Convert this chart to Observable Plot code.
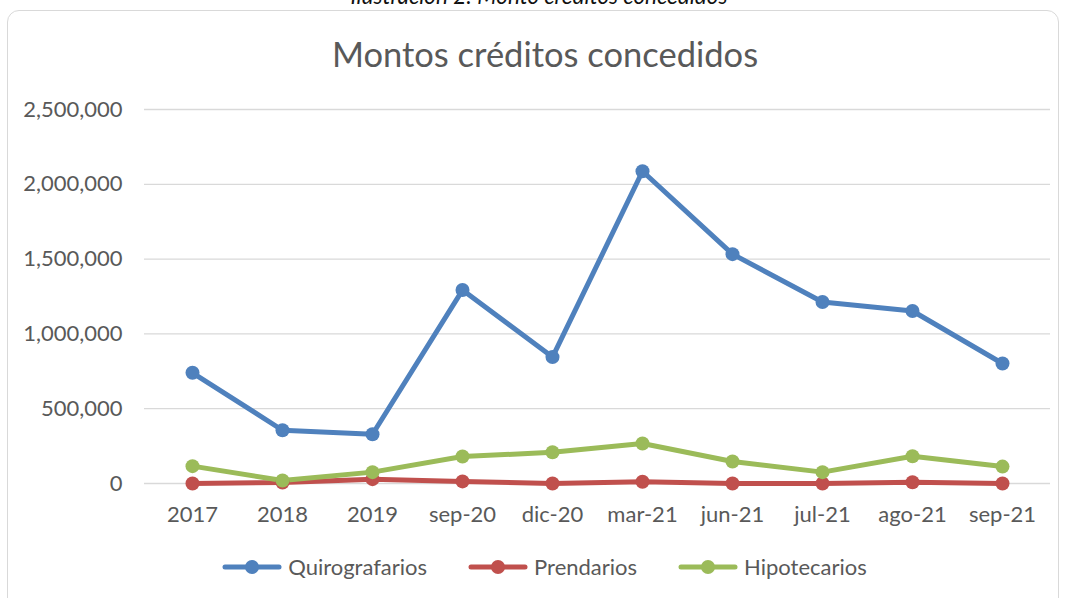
<!DOCTYPE html>
<html>
<head>
<meta charset="utf-8">
<script src="https://cdn.jsdelivr.net/npm/d3@7"></script>
<script src="https://cdn.jsdelivr.net/npm/@observablehq/plot@0.6"></script>
<style>
  html, body { margin: 0; padding: 0; background: #fff; width: 1067px; height: 598px; overflow: hidden; font-family: Lato, "Liberation Sans", sans-serif; }
  #caption { position: absolute; left: 0; width: 1078px; top: -15px; line-height: 1; text-align: center; font-style: italic; font-size: 22.5px; color: #111; white-space: nowrap; }
  #box { position: absolute; left: 7px; top: 10px; width: 1052px; height: 620px; border: 1.5px solid #d9d9d9; border-radius: 12px; box-sizing: border-box; }
  #title { position: absolute; left: 0; width: 1090px; top: 33px; text-align: center; font-size: 34.5px; color: #595959; white-space: nowrap; }
  #chart { position: absolute; left: 0; top: 90px; }
  #legend { position: absolute; left: 0; width: 1089px; top: 553px; display: flex; justify-content: center; gap: 41px; font-size: 22px; color: #595959; }
  .item { display: flex; align-items: center; gap: 6px; }
</style>
</head>
<body>
<div id="caption">Ilustración 2: Monto créditos concedidos</div>
<div id="box"></div>
<div id="title">Montos créditos concedidos</div>
<div id="chart"></div>
<div id="legend"></div>
<script>
const categories = ["2017", "2018", "2019", "sep-20", "dic-20", "mar-21", "jun-21", "jul-21", "ago-21", "sep-21"];
const quirografarios = [740000, 356000, 329000, 1293000, 845000, 2087000, 1533000, 1213000, 1153000, 802000];
const prendarios = [0, 7000, 29000, 14000, 0, 12000, 0, 0, 8000, 0];
const hipotecarios = [116000, 20000, 76000, 180000, 209000, 267000, 147000, 76000, 182000, 113000];
const seriesNames = ["Quirografarios", "Prendarios", "Hipotecarios"];
const seriesColors = ["#4f81bd", "#c0504d", "#9bbb59"];
const yTicks = [0, 500000, 1000000, 1500000, 2000000, 2500000];

const seriesValues = [quirografarios, prendarios, hipotecarios];
const data = [];
seriesNames.forEach((s, i) => categories.forEach((c, j) => data.push({serie: s, cat: c, value: seriesValues[i][j]})));

const fmt = d3.format(",");
const plot = Plot.plot({
  width: 1067,
  height: 450,
  marginLeft: 144,
  marginRight: 17,
  marginTop: 19,
  marginBottom: 57,
  style: {fontFamily: "Lato, 'Liberation Sans', sans-serif", fontSize: "22px", color: "#595959", background: "transparent", overflow: "visible"},
  x: {type: "point", domain: categories, padding: 0.5, label: null, tickSize: 0, tickPadding: 23},
  y: {domain: [0, 2500000], ticks: yTicks, label: null, tickSize: 0, tickPadding: 22, tickFormat: fmt},
  color: {domain: seriesNames, range: seriesColors},
  marks: [
    Plot.gridY(yTicks, {stroke: "#d9d9d9", strokeOpacity: 1, strokeWidth: 1.3}),
    Plot.line(data, {x: "cat", y: "value", z: "serie", stroke: "serie", strokeWidth: 5, strokeLinejoin: "round", strokeLinecap: "round"}),
    Plot.dot(data, {x: "cat", y: "value", fill: "serie", r: 7})
  ]
});
document.getElementById("chart").appendChild(plot);

const legend = document.getElementById("legend");
seriesNames.forEach((s, i) => {
  const item = document.createElement("div");
  item.className = "item";
  item.innerHTML = `<svg width="60" height="16"><line x1="3" y1="8" x2="57" y2="8" stroke="${seriesColors[i]}" stroke-width="5" stroke-linecap="round"/><circle cx="30" cy="8" r="7" fill="${seriesColors[i]}"/></svg><span>${s}</span>`;
  legend.appendChild(item);
});
</script>
</body>
</html>
